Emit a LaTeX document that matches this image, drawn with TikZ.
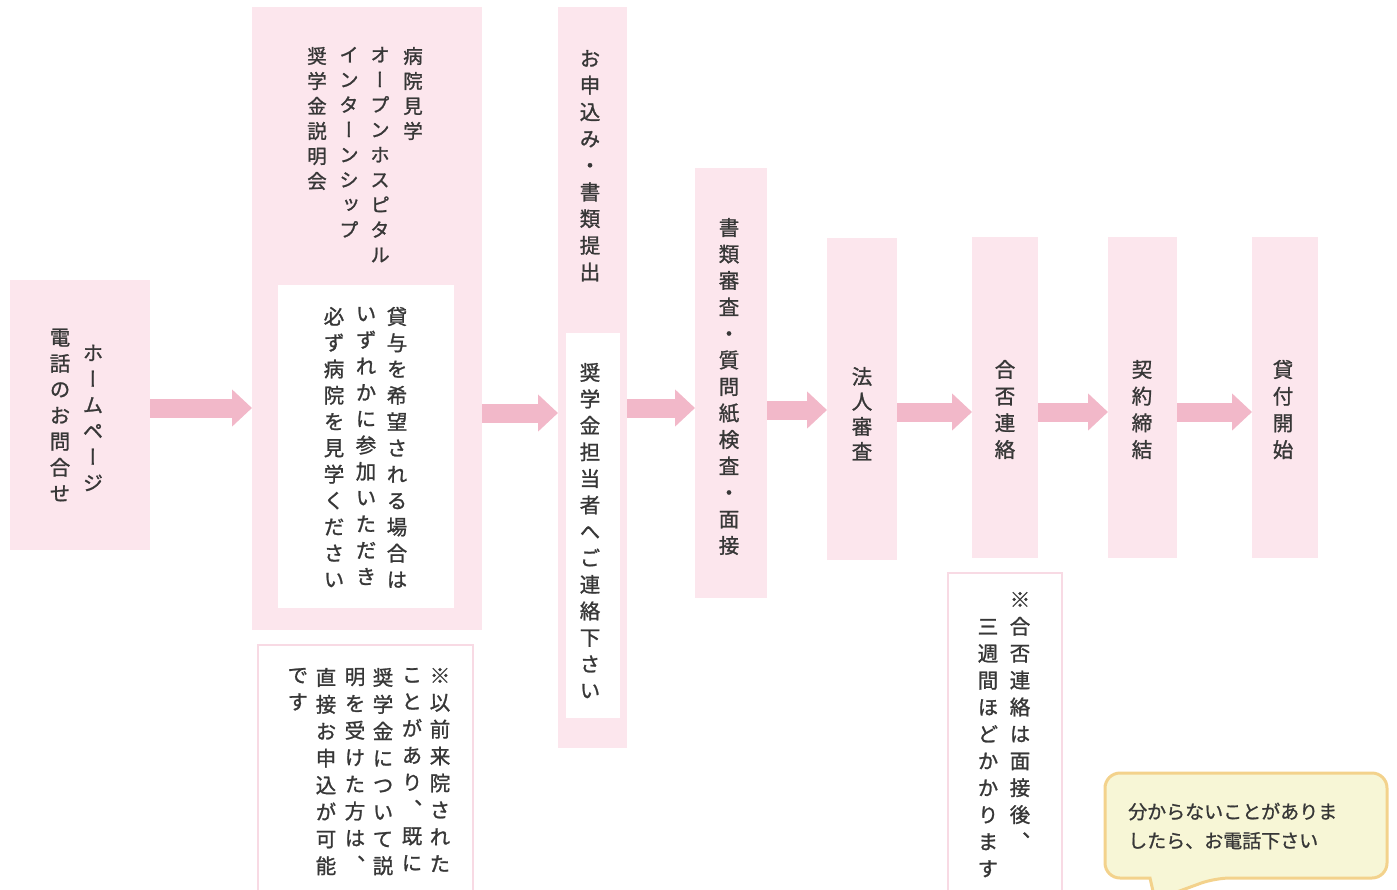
\documentclass[tikz,border=0pt]{standalone}
\usepackage{fontspec}
\usetikzlibrary{arrows.meta}
\newfontfamily\jp[FakeBold=1]{Noto Sans CJK JP}
\newfontfamily\vjp[RawFeature=+vert,FakeBold=1.2]{Noto Sans CJK JP}
\definecolor{pinkfill}{RGB}{252,230,237}
\definecolor{arrowpink}{RGB}{242,184,201}
\definecolor{txt}{RGB}{55,55,55}
\definecolor{noteborder}{RGB}{248,218,228}
\definecolor{bubblefill}{RGB}{247,246,214}
\definecolor{bubbleborder}{RGB}{243,210,140}
\ExplSyntaxOn
\NewDocumentCommand\vcol{O{26.5pt}m}{
  \vtop{\baselineskip=#1\relax\lineskiplimit=-\maxdimen\lineskip=0pt
    \tl_map_inline:nn{#2}{\hbox~to~1em{\hss##1\hss}}}
}
\ExplSyntaxOff
\begin{document}
\begin{tikzpicture}[x=1pt,y=-1pt,
  pinkbox/.style={fill=pinkfill,draw=none,inner sep=0pt,outer sep=0pt},
  whitebox/.style={fill=white,draw=none,inner sep=0pt,outer sep=0pt},
  notebox/.style={fill=white,draw=noteborder,line width=2.5pt,inner sep=0pt,outer sep=0pt},
  vt/.style={inner sep=0pt,outer sep=0pt,text=txt,font=\vjp\fontsize{20.5}{26}\selectfont},
  vtsmall/.style={vt,font=\vjp\fontsize{19.5}{25}\selectfont},
  fatarrow/.style={draw=arrowpink,line width=19pt,-{Triangle[width=36pt,length=20pt]}}]
\useasboundingbox (0,0) rectangle (1397,889);
% boxes
\node[pinkbox,minimum width=140pt,minimum height=270pt] (b1) at (80,415) {};
\node[pinkbox,minimum width=230pt,minimum height=623pt] (b2) at (367,318.5) {};
\node[whitebox,minimum width=176pt,minimum height=323pt] (w2) at (366,446.5) {};
\node[pinkbox,minimum width=69pt,minimum height=741pt] (b3) at (592.5,377.5) {};
\node[whitebox,minimum width=54pt,minimum height=385pt] (w3) at (593,525.5) {};
\node[pinkbox,minimum width=72pt,minimum height=430pt] (b4) at (731,383) {};
\node[pinkbox,minimum width=70pt,minimum height=322pt] (b5) at (862,399) {};
\node[pinkbox,minimum width=66pt,minimum height=321pt] (b6) at (1005,397.5) {};
\node[pinkbox,minimum width=69pt,minimum height=321pt] (b7) at (1142.5,397.5) {};
\node[pinkbox,minimum width=66pt,minimum height=321pt] (b8) at (1285,397.5) {};
\node[notebox,minimum width=215pt,minimum height=265pt] (n1) at (365.5,777.5) {};
\node[notebox,minimum width=114pt,minimum height=337pt] (n2) at (1005,741.5) {};
% arrows
\draw[fatarrow] (b1.east |- 0,408) -- (b2.west |- 0,408);
\draw[fatarrow] (b2.east |- 0,413) -- (b3.west |- 0,413);
\draw[fatarrow] (b3.east |- 0,408) -- (b4.west |- 0,408);
\draw[fatarrow] (b4.east |- 0,410) -- (b5.west |- 0,410);
\draw[fatarrow] (b5.east |- 0,412) -- (b6.west |- 0,412);
\draw[fatarrow] (b6.east |- 0,412) -- (b7.west |- 0,412);
\draw[fatarrow] (b7.east |- 0,412) -- (b8.west |- 0,412);
% box 1 text
\node[vt,anchor=center] (t1a) at (93,418) {\vcol[26pt]{ホームページ}};
\node[vt,anchor=center] (t1b) at (60,415) {\vcol[26pt]{電話のお問合せ}};
% box 2 text
\node[vtsmall,anchor=north] (t2a) at (413,47) {\vcol[25pt]{病院見学}};
\node[vtsmall,anchor=north] (t2b) at (380,47) {\vcol[25pt]{オープンホスピタル}};
\node[vtsmall,anchor=north] (t2c) at (349,47) {\vcol[25pt]{インターンシップ}};
\node[vtsmall,anchor=north] (t2d) at (317,47) {\vcol[25pt]{奨学金説明会}};
\node[vt,anchor=north] (t2e) at (397,307) {\vcol[26.3pt]{貸与を希望される場合は}};
\node[vt,anchor=north] (t2f) at (366,307) {\vcol[26.3pt]{いずれかに参加いただき}};
\node[vt,anchor=north] (t2g) at (334,307) {\vcol[26.3pt]{必ず病院を見学ください}};
% note 1
\node[vt,anchor=north] (tn1a) at (440,668) {\vcol[26.9pt]{※以前来院された}};
\node[vt,anchor=north] (tn1b) at (412,668) {\vcol[26.9pt]{ことがあり、既に}};
\node[vt,anchor=north] (tn1c) at (383,668) {\vcol[26.9pt]{奨学金について説}};
\node[vt,anchor=north] (tn1d) at (355,668) {\vcol[26.9pt]{明を受けた方は、}};
\node[vt,anchor=north] (tn1e) at (326,668) {\vcol[26.9pt]{直接お申込が可能}};
\node[vt,anchor=north] (tn1f) at (298,668) {\vcol[26.9pt]{です}};
% box 3
\node[vt,anchor=north] (t3a) at (590,50) {\vcol[26.7pt]{お申込み・書類提出}};
\node[vt,anchor=north] (t3b) at (590,363) {\vcol[26.5pt]{奨学金担当者へご連絡下さい}};
% box 4-8
\node[vt,anchor=north] (t4) at (729,218) {\vcol[26.5pt]{書類審査・質問紙検査・面接}};
\node[vt,anchor=north] (t5) at (862,367) {\vcol[25pt]{法人審査}};
\node[vt,anchor=north] (t6) at (1005,360) {\vcol[26.7pt]{合否連絡}};
\node[vt,anchor=north] (t7) at (1142,360) {\vcol[26.7pt]{契約締結}};
\node[vt,anchor=north] (t8) at (1283,360) {\vcol[26.7pt]{貸付開始}};
% note 2
\node[vt,anchor=north] (tn2a) at (1020,592) {\vcol[26.9pt]{※合否連絡は面接後、}};
\node[vt,anchor=north] (tn2b) at (988,619) {\vcol[26.9pt]{三週間ほどかかります}};
% bubble
\draw[fill=bubblefill,draw=bubbleborder,line width=3pt]
  (1105,800) [rounded corners=15pt] -- (1105,773) -- (1387,773) -- (1387,878) -- (1215,878)
  [sharp corners] -- (1155,900) -- (1150,878) [rounded corners=15pt] -- (1105,878) -- cycle;
\node[inner sep=0pt,anchor=west,align=left,text=txt,font=\jp\fontsize{19}{29}\selectfont] (bt) at (1128,826)
  {分からないことがありま\\したら、お電話下さい};
\end{tikzpicture}
\end{document}
